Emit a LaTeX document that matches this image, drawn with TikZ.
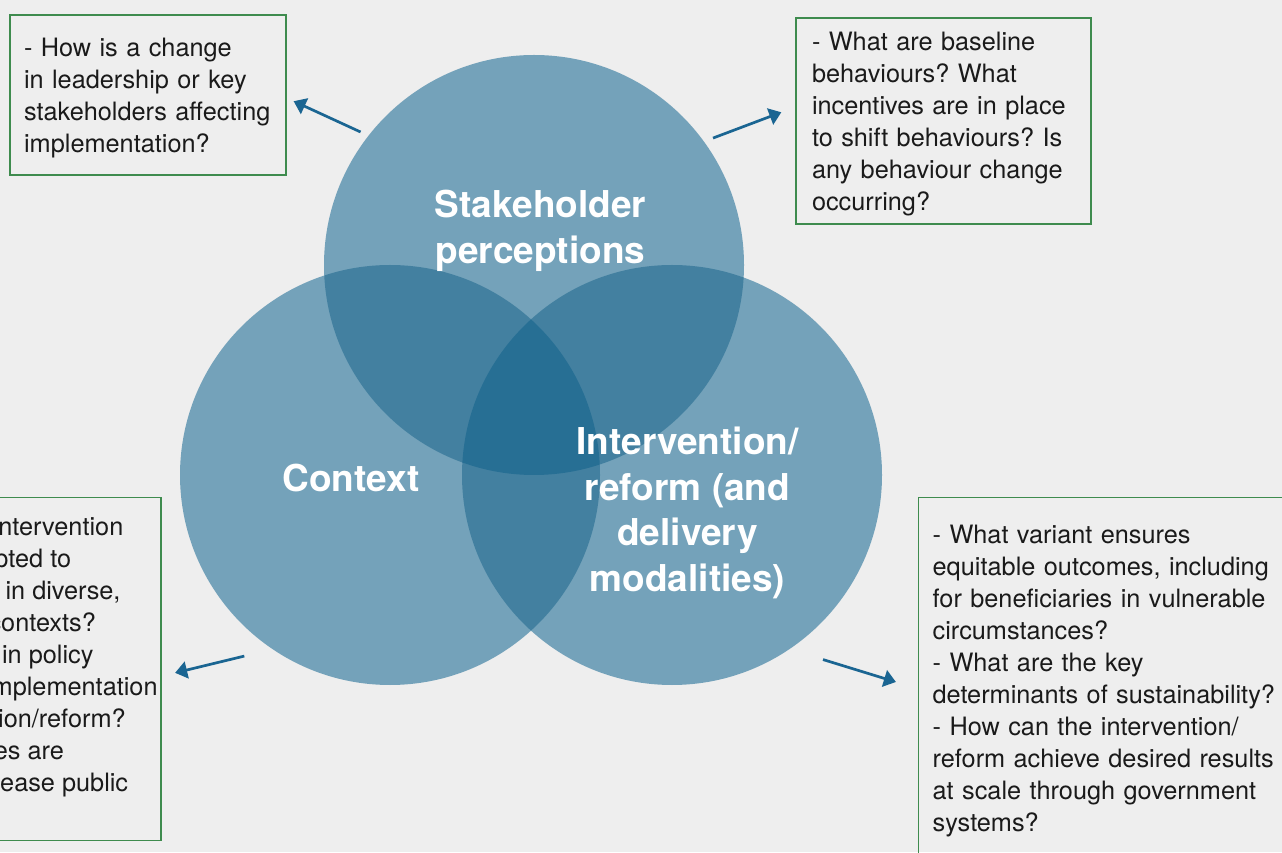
\documentclass[tikz,border=0pt]{standalone}
\usepackage{fontspec}
\setmainfont{TeX Gyre Heros}
\usepackage{tikz}
\usetikzlibrary{arrows.meta, positioning}
\frenchspacing

\definecolor{bgcol}{HTML}{EEEEEE}
\definecolor{vsingle}{HTML}{74A2BA}
\definecolor{vdouble}{HTML}{4380A0}
\definecolor{vtriple}{HTML}{276F94}
\definecolor{boxgreen}{HTML}{3E8B4E}
\definecolor{arrowblue}{HTML}{1A6592}
\definecolor{qtextcol}{HTML}{1A1A1A}

\tikzset{
  venn/.style={circle, minimum size=420pt, inner sep=0pt, fill=vsingle},
  vennlabel/.style={text=white, align=center, font=\bfseries\fontsize{37}{45.5}\selectfont},
  qbox/.style={draw=boxgreen, line width=1.3pt, text=qtextcol, align=left,
    font=\fontsize{25.3}{32}\selectfont},
  qmid/.style={execute at begin node=\rule{0pt}{24pt}},
  qarrow/.style={-{Triangle[length=12pt, width=17pt]}, line width=2.7pt, draw=arrowblue},
}

\begin{document}
\begin{tikzpicture}[x=1pt, y=1pt]
\useasboundingbox (0,0) rectangle (1282,852);
\fill[bgcol] (0,0) rectangle (1282,852);
\clip (0,0) rectangle (1282,852);

% the three circles
\node (stake) [venn] at (534,587) {};
\node (ctx) [venn] at (390,377) {};
\node (interv) [venn] at (672,377) {};

% overlaps
\begin{scope}
  \clip (stake.center) circle (210pt);
  \fill[vdouble] (ctx.center) circle (210pt);
  \fill[vdouble] (interv.center) circle (210pt);
\end{scope}
\begin{scope}
  \clip (ctx.center) circle (210pt);
  \fill[vdouble] (interv.center) circle (210pt);
\end{scope}
\begin{scope}
  \clip (stake.center) circle (210pt);
  \clip (ctx.center) circle (210pt);
  \fill[vtriple] (interv.center) circle (210pt);
\end{scope}

\node (stakelbl) [vennlabel] at (540.5,621) {Stakeholder\\perceptions};
\node (ctxlbl) [vennlabel] at (351,374) {Context};
\node (intervlbl) [vennlabel] at (687.5,339) {Intervention/\\reform (and\\delivery\\modalities)};

% question boxes
\node (leadq) [qbox, qmid, text width=248pt, inner xsep=14pt, minimum height=160pt] at (148,757)
{- How is a change\\in leadership or key\\stakeholders affecting\\implementation?};
\node (behavq) [qbox, qmid, text width=263pt, inner xsep=16pt, minimum height=206pt] at (943.5,731)
{- What are baseline\\behaviours? What\\incentives are in place\\to shift behaviours? Is\\any behaviour change\\occurring?};
\node (ctxq) [qbox, anchor=north east, minimum width=200pt, minimum height=343pt] at (161.5,355) {};
\node (ctxqtext) [anchor=north west, inner sep=0pt, align=left, text=qtextcol,
  font=\fontsize{25.3}{32}\selectfont] at (-11.6,335)
{\hspace*{9.7pt}ntervention\\\hspace*{5.9pt}pted to\\\hspace*{17pt}in diverse,\\contexts?\\
\hspace*{13.5pt}in policy\\\hspace*{3pt}mplementation\\\hspace*{9.6pt}ion/reform?\\
\hspace*{5.3pt}es are\\\hspace*{11.6pt}ease public};
\node (varq) [qbox, anchor=north west, text width=360pt, inner xsep=14.5pt, inner ysep=27pt] at (917.5,355)
{- What variant ensures\\equitable outcomes, including\\for beneficiaries in vulnerable\\circumstances?\\
- What are the key\\determinants of sustainability?\\- How can the intervention/\\reform achieve desired results\\
at scale through government\\systems?};

% arrows out to the questions
\draw[qarrow, shorten <=8.6pt, shorten >=7.7pt] (stake.142.3) -- ([yshift=-3pt]leadq.east);
\draw[qarrow, shorten <=9.6pt, shorten >=15pt] (stake.36.4) -- ([yshift=14pt]behavq.west);
\draw[qarrow, shorten <=29pt, shorten >=14pt] (ctx.236.8) -- ([yshift=-7pt]ctxq.east);
\draw[qarrow, shorten <=35pt, shorten >=22.6pt] (interv.304.9) -- ([yshift=-8pt]varq.west);
\end{tikzpicture}
\end{document}
